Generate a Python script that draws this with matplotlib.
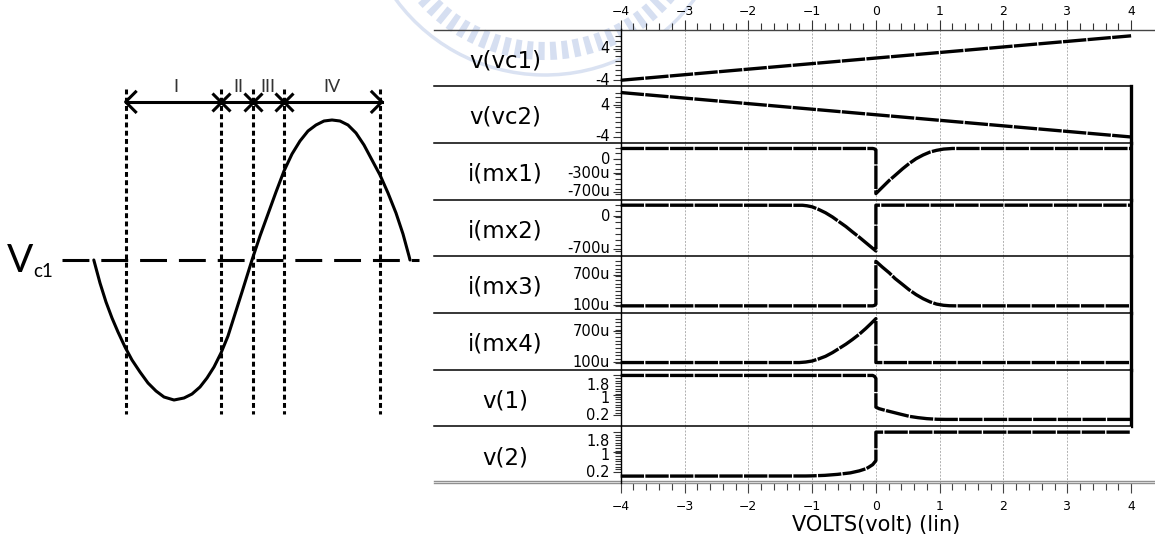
import numpy as np
import matplotlib
matplotlib.use('Agg')
import matplotlib.pyplot as plt
import matplotlib.transforms as mtransforms
from matplotlib.patches import Arc

# ---- HSPICE sweep, values ----
vc_x = [-4.0, 4.0]
vc1 = [-4.0, 7.25]
vc2 = [7.25, -4.0]

mx1_x = [-4.0, -0.05, -0.02, 0.0, 0.0, 0.1, 0.21, 0.3, 0.42, 0.52, 0.63, 0.74, 0.85, 0.95, 1.06, 1.2, 4.0]
mx1_i = [235, 235, 225, 205, -736, -600, -451, -345, -200, -90, 15, 95, 159, 195, 222, 235, 235]

mx2_x = [-4.0, -1.15, -1.08, -1.0, -0.9, -0.79, -0.68, -0.58, -0.47, -0.37, -0.26, -0.16, -0.08, 0.0, 0.0, 4.0]
mx2_i = [235, 233, 222, 200, 145, 72, -20, -118, -225, -337, -455, -569, -660, -750, 235, 235]

mx3_x = [-4.0, -0.05, -0.02, 0.0, 0.0, 0.1, 0.21, 0.3, 0.42, 0.52, 0.63, 0.74, 0.85, 0.95, 1.06, 1.15, 1.25, 4.0]
mx3_i = [90, 90, 100, 125, 962, 850, 735, 625, 506, 405, 310, 230, 167, 125, 101, 92, 90, 90]

mx4_x = [-4.0, -1.2, -1.1, -1.0, -0.9, -0.79, -0.68, -0.58, -0.47, -0.37, -0.26, -0.16, -0.08, 0.0, 0.0, 4.0]
mx4_i = [90, 90, 100, 120, 160, 212, 285, 363, 450, 539, 645, 755, 850, 950, 90, 90]

v1_x = [-4.0, -0.05, -0.02, 0.0, 0.0, 0.05, 0.15, 0.26, 0.4, 0.53, 0.66, 0.8, 0.96, 1.1, 4.0]
v1 = [1.8, 1.8, 1.76, 1.68, 0.53, 0.47, 0.4, 0.33, 0.24, 0.16, 0.11, 0.07, 0.045, 0.04, 0.04]

v2_x = [-4.0, -1.1, -1.0, -0.8, -0.6, -0.4, -0.26, -0.15, -0.11, -0.05, 0.0, 0.0, 4.0]
v2 = [0.04, 0.045, 0.05, 0.07, 0.11, 0.17, 0.25, 0.34, 0.4, 0.5, 0.66, 1.8, 1.8]

names = ['v(vc1)', 'v(vc2)', 'i(mx1)', 'i(mx2)', 'i(mx3)', 'i(mx4)', 'v(1)', 'v(2)']
tick_vals = [[4, -4], [4, -4], [0, -300, -700], [0, -700], [700, 100], [700, 100],
             [1.8, 1, 0.2], [1.8, 1, 0.2]]
tick_txt = [['4', '-4'], ['4', '-4'], ['0', '-300u', '-700u'], ['0', '-700u'],
            ['700u', '100u'], ['700u', '100u'], ['1.8', '1', '0.2'], ['1.8', '1', '0.2']]
x_ticks = [-4, -3, -2, -1, 0, 1, 2, 3, 4]

# ---- left sketch (image pixel coords) ----
wave_x = [93.8, 100, 106, 112, 118, 125, 132, 140, 148, 156, 164, 174, 184, 192, 200, 207, 214,
          221, 228, 235, 242, 252, 260, 268, 276, 284, 292, 300, 308, 316, 324, 332, 340, 348,
          356, 364, 372, 380, 388, 396, 403, 409, 410]
wave_y = [260, 283, 302, 318, 332, 347, 360, 372, 383, 391, 397, 400, 398, 394, 387, 378, 367,
          353, 336, 314, 292, 260, 236, 214, 192, 171, 154, 141, 131, 125, 121, 120, 121, 125,
          133, 145, 160, 175, 193, 213, 234, 256, 260]
vc1_level = 260.4
bounds_x = [125.6, 221.1, 252.9, 284.1, 379.6]
cross_x = [221.1, 252.9, 284.1]
region_lbl = ['I', 'II', 'III', 'IV']
region_lbl_x = [176, 238.5, 268, 331.7]

W, H = 1155, 537
fig = plt.figure(figsize=(W / 100, H / 100), dpi=100)

dax = fig.add_axes([0, 0, 1, 1])
dax.set_xlim(0, W)
dax.set_ylim(H, 0)
dax.axis('off')

# faint seal watermark behind the top of the plot
dax.add_patch(Arc((545, -110), 370, 370, theta1=35, theta2=147, color='#dae2f2', lw=2.5))
dax.add_patch(Arc((545, -110), 322, 322, theta1=40, theta2=142, color='#d6dff1', lw=13,
                  ls=(0, (0.35, 0.3))))

dax.plot([62, 418.8], [vc1_level, vc1_level], color='k', lw=2.2, ls=(0, (8.8, 3.9)))
dax.plot(wave_x, wave_y, color='k', lw=2.2, solid_capstyle='round', solid_joinstyle='round')
for bx in bounds_x:
    dax.plot([bx, bx], [89, 414], color='k', lw=2.2, ls=(0, (1.6, 1.1)))
ay = 101.9
dax.plot([bounds_x[0], 381.9], [ay, ay], color='k', lw=2.2)
dax.plot([bounds_x[0] + 10, bounds_x[0], bounds_x[0] + 10], [ay - 10, ay, ay + 10], color='k', lw=2.2)
dax.plot([371.9, 381.9, 371.9], [ay - 10, ay, ay + 10], color='k', lw=2.2)
dax.plot(cross_x, [ay] * len(cross_x), ls='none', marker='x', ms=12.5, mew=2.2, color='k')
for lx, lt in zip(region_lbl_x, region_lbl):
    dax.text(lx, 86.5, lt, ha='center', va='center', fontsize=13, family='Lato', color='#333333')
dax.text(7, 272, 'V', fontsize=28, family='Lato', va='baseline', ha='left')
dax.text(33, 277, 'c1', fontsize=13.5, family='Lato', va='baseline', ha='left')

# ---- stacked panels ----
x0, x1 = 620.7, 1131.1
top0, ph = 29.5, 56.7
ylims = [(-5.5, 8.85), (-5.5, 8.85), (-865, 355), (-865, 355),
         (-50, 1060), (-50, 1060), (-0.24, 2.03), (-0.24, 2.03)]
minor_spec = [(-4, 7.25, 10), (-4, 7.25, 10), (-736, 235, 10), (-750, 235, 9),
              (90, 962, 13), (90, 950, 13), (0.2, 1.8, 16), (0.2, 1.8, 16)]
series = [(vc_x, vc1), (vc_x, vc2), (mx1_x, mx1_i), (mx2_x, mx2_i),
          (mx3_x, mx3_i), (mx4_x, mx4_i), (v1_x, v1), (v2_x, v2)]
sep_left = (434 - x0) / (x1 - x0)
far_right = (W - x0) / (x1 - x0)

axes = []
for k in range(8):
    b = 1 - (top0 + (k + 1) * ph) / H
    ax = fig.add_axes([x0 / W, b, (x1 - x0) / W, ph / H])
    axes.append(ax)
    ax.set_xlim(-4, 4)
    ax.set_ylim(*ylims[k])
    for s in ['top', 'bottom', 'right']:
        ax.spines[s].set_visible(False)
    ax.spines['left'].set_linewidth(1.0)

    xs, ys = series[k]
    ax.plot(xs, ys, color='k', lw=2.4, ls=(0, (7, 0.4)), dash_capstyle='butt', clip_on=False)

    ax.set_xticks(x_ticks)
    ax.set_xticks(np.arange(-4, 4.01, 0.2), minor=True)
    ax.grid(True, axis='x', which='major', color='#b0b0b0', lw=0.7, ls=(0, (2, 1.5)))
    ax.tick_params(axis='x', which='both', bottom=False, top=False, labelbottom=False)

    ax.set_yticks(tick_vals[k])
    ax.set_yticks(np.linspace(*minor_spec[k]), minor=True)
    ax.tick_params(axis='y', which='major', length=6, width=0.8, color='#333333', labelleft=False)
    ax.tick_params(axis='y', which='minor', length=4, width=0.8, color='#333333')
    tr = mtransforms.blended_transform_factory(ax.transAxes, ax.transData)
    for val, txt in zip(tick_vals[k], tick_txt[k]):
        dy = {'1.8': -7, '1': -2.5}.get(txt, 0) if k >= 6 else 0
        t2 = mtransforms.offset_copy(tr, fig=fig, y=dy, units='points')
        ax.text(-0.021, val, txt, transform=t2, ha='right', va='center', fontsize=10.5)

    ax.text(-0.2267, 0.45, names[k], transform=ax.transAxes, ha='center', va='center', fontsize=16.5)

    if k == 0:
        ax.plot([sep_left, far_right], [1, 1], transform=ax.transAxes, color='#444444', lw=1.0, clip_on=False)
    else:
        ax.plot([sep_left, 1], [1, 1], transform=ax.transAxes, color='k', lw=1.1, clip_on=False)
    if 1 <= k <= 6:
        ax.axvline(4, color='k', lw=2.4, clip_on=False)

top = axes[0]
top.tick_params(axis='x', which='both', top=True, labeltop=True, direction='out',
                color='#333333', width=0.8, labelsize=8.9, pad=0.5)
top.tick_params(axis='x', which='major', length=7.5)
top.tick_params(axis='x', which='minor', length=5)

bot = axes[-1]
bot.tick_params(axis='x', which='both', bottom=True, labelbottom=True, direction='out',
                color='#444444', width=0.8, labelsize=8.9, pad=4.5)
bot.tick_params(axis='x', which='major', length=7.5)
bot.tick_params(axis='x', which='minor', length=5)
bot.plot([sep_left, far_right], [0, 0], transform=bot.transAxes, color='#909090', lw=1.0, clip_on=False)
bot.plot([sep_left, far_right], [0.044, 0.044], transform=bot.transAxes, color='#909090', lw=1.0, clip_on=False)
bot.text(0.5, -0.732, 'VOLTS(volt) (lin)', transform=bot.transAxes, ha='center', va='center', fontsize=15)

fig.savefig('out.png', dpi=100)
